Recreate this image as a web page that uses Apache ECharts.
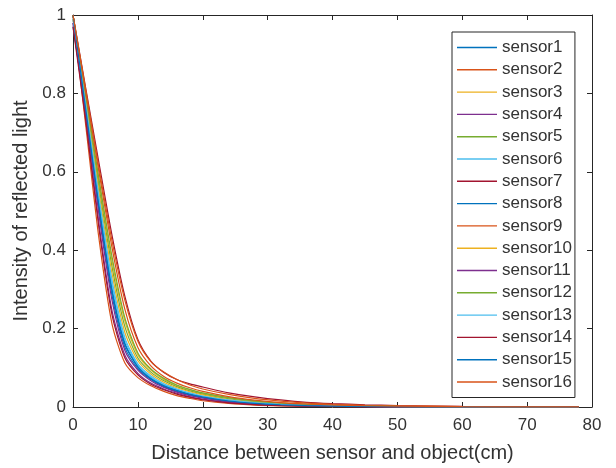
<!DOCTYPE html>
<html>
<head>
<meta charset="utf-8">
<script src="https://cdn.jsdelivr.net/npm/echarts@6/dist/echarts.min.js"></script>
<style>
html,body{margin:0;padding:0;background:#fff;}
#c{width:616px;height:468px;}
</style>
</head>
<body>
<div id="c"></div>
<script>
// ---- data ----
const distances = [0, 2, 4, 6, 8, 10, 12, 14, 16, 18, 20, 24, 28, 32, 36, 40, 45, 50, 60, 70, 78];
const sensorNames = ['sensor1','sensor2','sensor3','sensor4','sensor5','sensor6','sensor7','sensor8',
                     'sensor9','sensor10','sensor11','sensor12','sensor13','sensor14','sensor15','sensor16'];
const sensor1  = [1, 0.758, 0.517, 0.303, 0.163, 0.104, 0.074, 0.055, 0.043, 0.033, 0.026, 0.016, 0.0095, 0.006, 0.0038, 0.0025, 0.0014, 0.0008, 0.0002, 0, 0];
const sensor2  = [1, 0.713, 0.43, 0.213, 0.112, 0.075, 0.054, 0.040, 0.029, 0.022, 0.016, 0.009, 0.005, 0.003, 0.0017, 0.001, 0.0006, 0.0002, 0, 0, 0];
const sensor3  = [0.99, 0.787, 0.574, 0.374, 0.219, 0.133, 0.094, 0.070, 0.055, 0.044, 0.035, 0.023, 0.015, 0.0094, 0.0062, 0.0041, 0.0026, 0.0015, 0.0006, 0.0001, 0];
const sensor4  = [0.98, 0.733, 0.468, 0.247, 0.132, 0.086, 0.061, 0.046, 0.035, 0.026, 0.020, 0.011, 0.0067, 0.004, 0.0025, 0.0015, 0.0008, 0.0004, 0, 0, 0];
const sensor5  = [1, 0.781, 0.562, 0.359, 0.205, 0.125, 0.089, 0.067, 0.052, 0.041, 0.033, 0.021, 0.013, 0.0085, 0.0056, 0.0037, 0.0023, 0.0013, 0.0005, 0.0001, 0];
const sensor6  = [0.99, 0.763, 0.526, 0.314, 0.170, 0.107, 0.076, 0.057, 0.045, 0.035, 0.027, 0.017, 0.010, 0.0064, 0.0041, 0.0027, 0.0015, 0.0009, 0.0002, 0, 0];
const sensor7  = [1, 0.81, 0.623, 0.439, 0.282, 0.172, 0.117, 0.088, 0.070, 0.059, 0.051, 0.036, 0.026, 0.018, 0.012, 0.0087, 0.0057, 0.0038, 0.0016, 0.0008, 0.0004];
const sensor8  = [0.97, 0.75, 0.502, 0.286, 0.152, 0.098, 0.070, 0.052, 0.040, 0.031, 0.024, 0.014, 0.0086, 0.0053, 0.0033, 0.0021, 0.0012, 0.0007, 0.0001, 0, 0];
const sensor9  = [1, 0.805, 0.61, 0.425, 0.272, 0.168, 0.116, 0.089, 0.070, 0.056, 0.046, 0.032, 0.022, 0.015, 0.010, 0.007, 0.0045, 0.003, 0.0013, 0.0006, 0.0002];
const sensor10 = [0.99, 0.775, 0.549, 0.342, 0.190, 0.118, 0.084, 0.063, 0.049, 0.039, 0.031, 0.019, 0.012, 0.0076, 0.0049, 0.0033, 0.0019, 0.0011, 0.0004, 0, 0];
const sensor11 = [0.98, 0.745, 0.491, 0.273, 0.144, 0.094, 0.067, 0.050, 0.038, 0.029, 0.023, 0.013, 0.0079, 0.0048, 0.003, 0.0018, 0.001, 0.0006, 0.0001, 0, 0];
const sensor12 = [1, 0.791, 0.582, 0.385, 0.227, 0.138, 0.097, 0.073, 0.056, 0.045, 0.036, 0.024, 0.0155, 0.0099, 0.0065, 0.0044, 0.0028, 0.0016, 0.0007, 0.0002, 0];
const sensor13 = [0.99, 0.768, 0.536, 0.325, 0.177, 0.110, 0.079, 0.059, 0.046, 0.036, 0.028, 0.018, 0.011, 0.0068, 0.0044, 0.0029, 0.0016, 0.001, 0.0003, 0, 0];
const sensor14 = [0.97, 0.726, 0.456, 0.236, 0.125, 0.082, 0.058, 0.044, 0.033, 0.025, 0.0185, 0.0104, 0.0062, 0.0037, 0.0023, 0.0013, 0.0008, 0.0003, 0, 0, 0];
const sensor15 = [1, 0.755, 0.512, 0.297, 0.160, 0.102, 0.072, 0.054, 0.042, 0.032, 0.0255, 0.0153, 0.0092, 0.0057, 0.0036, 0.0023, 0.0013, 0.0008, 0.0002, 0, 0];
const sensor16 = [1, 0.80, 0.60, 0.408, 0.249, 0.152, 0.105, 0.078, 0.061, 0.049, 0.040, 0.0266, 0.0174, 0.0113, 0.0077, 0.0053, 0.0033, 0.0021, 0.0008, 0.0003, 0.0001];
const sensorValues = [sensor1, sensor2, sensor3, sensor4, sensor5, sensor6, sensor7, sensor8,
                      sensor9, sensor10, sensor11, sensor12, sensor13, sensor14, sensor15, sensor16];
const xTicks = [0, 10, 20, 30, 40, 50, 60, 70, 80];
const yTicks = [0, 0.2, 0.4, 0.6, 0.8, 1];

// ---- style ----
const palette = ['#0072BD','#D95319','#EDB120','#7E2F8E','#77AC30','#4DBEEE','#A2142F'];
const FONT = "'Liberation Sans', Arial, Helvetica, sans-serif";
const AX = '#262626';
const TXT = '#333333';

const chart = echarts.init(document.getElementById('c'), null, {renderer: 'canvas'});

const series = sensorNames.map((name, i) => {
  const col = palette[i % palette.length];
  return {
    name: name,
    type: 'line',
    xAxisIndex: 0,
    yAxisIndex: 0,
    symbol: 'none',
    showSymbol: false,
    smooth: 0.25,
    clip: true,
    itemStyle: {color: col},
    lineStyle: {color: col, width: 1.2},
    data: distances.map((d, k) => [d, sensorValues[i][k]])
  };
});

const baseAxis = {
  axisLine: {show: true, onZero: false, lineStyle: {color: AX, width: 1}},
  axisTick: {show: true, inside: true, length: 5, lineStyle: {color: AX, width: 1}},
  splitLine: {show: false}
};

chart.setOption({
  animation: false,
  backgroundColor: '#fff',
  textStyle: {fontFamily: FONT},
  grid: {left: 73, right: 24, top: 15, bottom: 58, containLabel: false},
  xAxis: [
    Object.assign({}, baseAxis, {
      type: 'value', position: 'bottom', min: xTicks[0], max: xTicks[xTicks.length - 1], interval: 10,
      name: 'Distance between sensor and object(cm)',
      nameLocation: 'middle', nameGap: 36,
      nameTextStyle: {color: TXT, fontSize: 20, fontFamily: FONT},
      axisLabel: {show: true, color: TXT, fontSize: 17, fontFamily: FONT, margin: 10}
    }),
    Object.assign({}, baseAxis, {
      type: 'value', position: 'top', min: xTicks[0], max: xTicks[xTicks.length - 1], interval: 10,
      axisLabel: {show: false}
    })
  ],
  yAxis: [
    Object.assign({}, baseAxis, {
      type: 'value', position: 'left', min: yTicks[0], max: yTicks[yTicks.length - 1], interval: 0.2,
      name: 'Intensity of reflected light',
      nameLocation: 'middle', nameGap: 36,
      nameTextStyle: {color: TXT, fontSize: 20, fontFamily: FONT},
      axisLabel: {show: true, color: TXT, fontSize: 17, fontFamily: FONT, margin: 7}
    }),
    Object.assign({}, baseAxis, {
      type: 'value', position: 'right', min: yTicks[0], max: yTicks[yTicks.length - 1], interval: 0.2,
      axisLabel: {show: false}
    })
  ],
  legend: {
    show: true,
    orient: 'vertical',
    left: 452,
    top: 32,
    padding: [7, 3, 7, 5],
    itemGap: 5.3,
    itemWidth: 40,
    itemHeight: 1.4,
    itemTextGap: 5,
    icon: 'rect',
    backgroundColor: '#fff',
    borderColor: AX,
    borderWidth: 1,
    borderRadius: 0,
    textStyle: {color: TXT, fontSize: 17, fontFamily: FONT},
    data: sensorNames
  },
  series: series
});
</script>
</body>
</html>
